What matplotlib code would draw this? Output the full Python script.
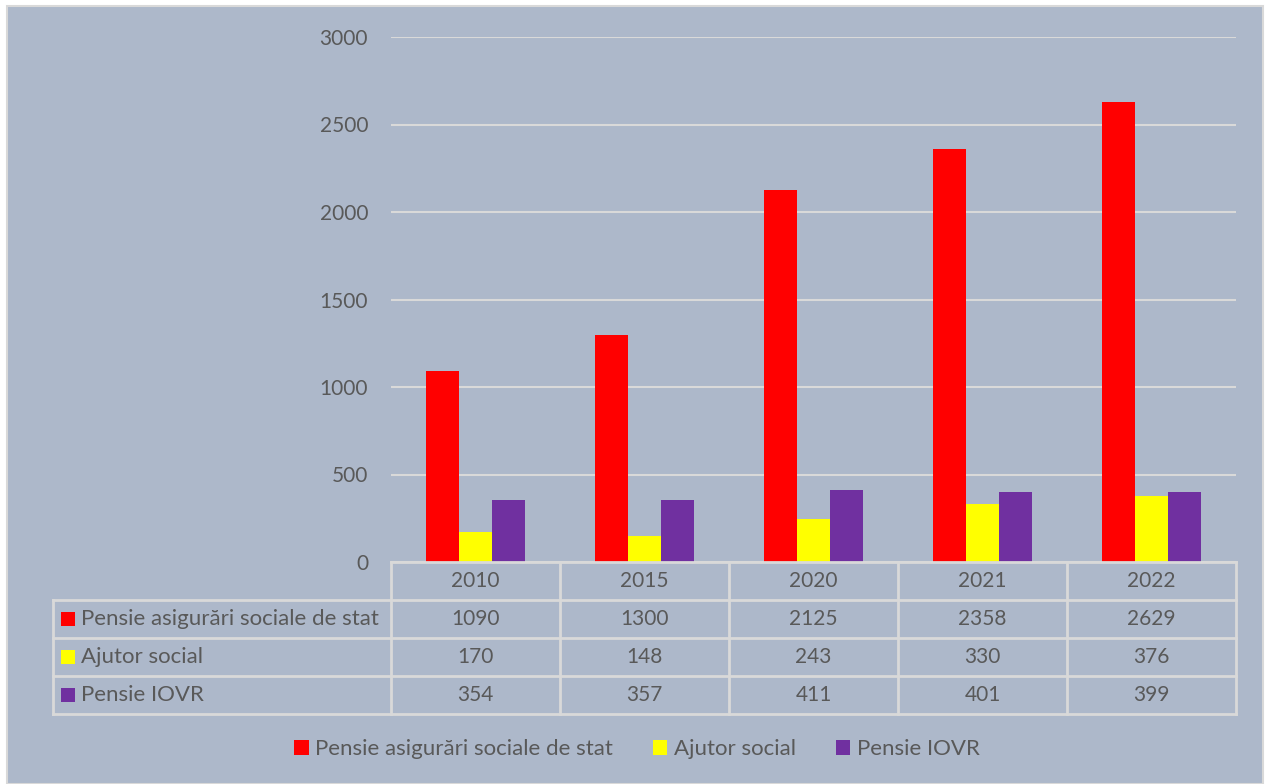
import numpy as np
import matplotlib.pyplot as plt
from matplotlib.patches import Rectangle, Patch
from matplotlib.lines import Line2D

years = ["2010", "2015", "2020", "2021", "2022"]
series_names = ["Pensie asigurări sociale de stat", "Ajutor social", "Pensie IOVR"]
pensie_stat = [1090, 1300, 2125, 2358, 2629]
ajutor = [170, 148, 243, 330, 376]
pensie_iovr = [354, 357, 411, 401, 399]
colors = ["#FF0000", "#FFFF00", "#7030A0"]

W, H = 1265, 784
BG = "#ADB8CA"
LINE = "#D9D9D9"
TXT = "#595959"
plt.rcParams['font.family'] = ['Lato', 'DejaVu Sans']
FS = 15      # numbers
FS_LBL = 16  # series names


def fx(px):
    return px / W


def fy(py):
    return 1 - py / H


fig = plt.figure(figsize=(W / 100, H / 100), dpi=100, facecolor="white")
# chart area background
fig.patches.append(Rectangle((fx(7), fy(784)), fx(1263) - fx(7), fy(6) - fy(784),
                             transform=fig.transFigure, facecolor=BG,
                             edgecolor=LINE, linewidth=1.5, zorder=-5))

ax = fig.add_axes([fx(391), fy(562), fx(1236) - fx(391), fy(37) - fy(562)])
ax.set_facecolor("none")

x = np.arange(len(years))
bw = 0.195
all_vals = [pensie_stat, ajutor, pensie_iovr]
for i, (vals, c) in enumerate(zip(all_vals, colors)):
    ax.bar(x + (i - 1) * bw, vals, width=bw, color=c, zorder=3)

ax.set_xlim(-0.5, len(years) - 0.5)
ax.set_ylim(0, 3000)
ax.set_yticks(np.arange(0, 3001, 500))
ax.yaxis.grid(True, color=LINE, linewidth=1.5, zorder=0)
ax.tick_params(axis="y", length=0, pad=16.5, labelsize=FS, labelcolor=TXT)
ax.set_xticks([])
for s in ax.spines.values():
    s.set_visible(False)

# data table under the chart
row_y = [562, 600, 638, 676, 714]
col_x = [391, 560, 729, 898, 1067, 1236]
tf = fig.transFigure
for yy in row_y:
    x0 = 391 if yy == 562 else 53
    fig.lines.append(Line2D([fx(x0), fx(1236)], [fy(yy), fy(yy)], transform=tf,
                            color=LINE, linewidth=2))
for xx in col_x:
    fig.lines.append(Line2D([fx(xx), fx(xx)], [fy(562), fy(714)], transform=tf,
                            color=LINE, linewidth=2))
fig.lines.append(Line2D([fx(53), fx(53)], [fy(600), fy(714)], transform=tf,
                        color=LINE, linewidth=2))

for j, yr in enumerate(years):
    cx = (col_x[j] + col_x[j + 1]) / 2
    fig.text(fx(cx), fy((row_y[0] + row_y[1]) / 2), yr, ha="center", va="center",
             fontsize=FS, color=TXT)
    for r, vals in enumerate(all_vals):
        fig.text(fx(cx), fy((row_y[r + 1] + row_y[r + 2]) / 2), str(vals[j]),
                 ha="center", va="center", fontsize=FS, color=TXT)

for r, (name, c) in enumerate(zip(series_names, colors)):
    cy = (row_y[r + 1] + row_y[r + 2]) / 2
    fig.patches.append(Rectangle((fx(61), fy(cy + 7)), fx(14), 14 / H,
                                 transform=tf, facecolor=c, edgecolor="none"))
    fig.text(fx(81), fy(cy), name, ha="left", va="center", fontsize=FS_LBL, color=TXT)

handles = [Patch(facecolor=c, edgecolor="none") for c in colors]
leg = fig.legend(handles, series_names, loc="center", bbox_to_anchor=(fx(637), fy(749)),
                 ncol=3, frameon=False, fontsize=FS_LBL, labelcolor=TXT,
                 handlelength=0.64, handleheight=0.64, handletextpad=0.3,
                 columnspacing=1.8)

fig.savefig("out.png", dpi=100, facecolor=fig.get_facecolor())
